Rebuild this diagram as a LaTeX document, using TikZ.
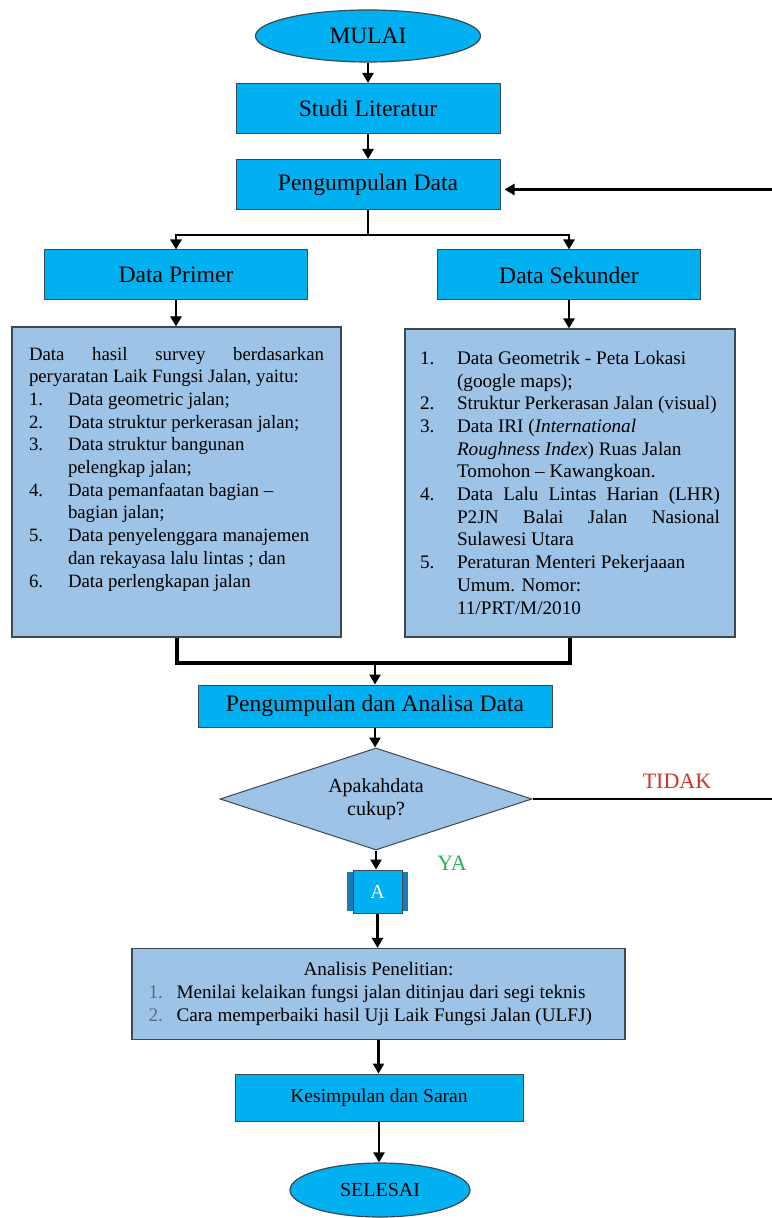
\documentclass[tikz,border=0pt]{standalone}
\usepackage{fontspec}
\setmainfont{Liberation Serif}
\usetikzlibrary{shapes.geometric,arrows.meta,positioning}
\definecolor{birumuda}{HTML}{00B0F0}
\definecolor{birupucat}{HTML}{9DC3E6}
\definecolor{birutua}{HTML}{1C78B8}
\definecolor{garis}{HTML}{3C4852}
\definecolor{merah}{HTML}{D2332B}
\definecolor{hijau}{HTML}{2DB35A}
\definecolor{nomor}{HTML}{5B6B7C}
\newcounter{butirno}
\newenvironment{butir}[2][black]{%
  \begin{list}{\textcolor{#1}{\arabic{butirno}.}}{\usecounter{butirno}%
    \setlength\leftmargin{#2}\setlength\labelwidth{#2}%
    \setlength\labelsep{0pt}\setlength\itemsep{0pt}%
    \setlength\parsep{0pt}\setlength\topsep{0pt}\setlength\partopsep{0pt}%
    \setlength\itemindent{0pt}\setlength\listparindent{0pt}%
    \def\makelabel##1{##1\hfil}}}%
  {\end{list}}
\begin{document}
\begin{tikzpicture}[x=0.5pt,y=-0.5pt,
  kotak/.style={rectangle,draw=garis,line width=0.5pt,fill=birumuda,inner sep=0pt,
    font=\fontsize{11.8}{14}\selectfont},
  oval/.style={ellipse,draw=garis,line width=0.6pt,fill=birumuda,inner sep=0pt},
  daftar/.style={rectangle,draw=garis,line width=0.6pt,fill=birupucat,inner ysep=0pt},
  keputusan/.style={diamond,aspect=3,draw=garis,line width=0.5pt,fill=birupucat,inner sep=0pt,
    align=center,font=\fontsize{10}{11.5}\selectfont},
  panah/.style={line width=1.4pt,-{Triangle[length=5pt,width=5.5pt]}},
  tebal/.style={line width=2pt},
  label/.style={font=\fontsize{11}{13}\selectfont}]
  \useasboundingbox (0,0) rectangle (771,1218);
  % alur atas
  \node[oval,minimum width=112.5pt,minimum height=26pt,font=\fontsize{11.7}{14}\selectfont] (mulai) at (368,36) {MULAI};
  \node[kotak,minimum width=132pt,minimum height=25pt] (studi) at (368,108.5) {Studi Literatur};
  \node[kotak,minimum width=132pt,minimum height=25pt] (kumpul) at (368,184.5) {Pengumpulan Data};
  \node[kotak,minimum width=131.5pt,minimum height=25pt] (primer) at (176,275) {Data Primer};
  \node[kotak,minimum width=131.5pt,minimum height=25pt] (sekunder) at (569,275) {Data Sekunder};
  % daftar data
  \node[daftar,minimum width=164.5pt,minimum height=155pt,inner xsep=8.5pt,inner ysep=10pt] (lbox) at (176.5,482)
    {\parbox[c][135pt][t]{147.5pt}{\fontsize{9.4}{11.35}\selectfont\sloppy
      Data hasil survey berdasarkan\linebreak peryaratan Laik Fungsi Jalan, yaitu:
      \begin{butir}{19.5pt}
        \item Data geometric jalan;
        \item Data struktur perkerasan jalan;
        \item Data struktur bangunan\newline pelengkap jalan;
        \item Data pemanfaatan bagian --\newline bagian jalan;
        \item Data penyelenggara manajemen\newline dan rekayasa lalu lintas ; dan
        \item Data perlengkapan jalan
      \end{butir}}};
  \node[daftar,minimum width=165pt,minimum height=154pt,inner xsep=7.5pt,inner ysep=11pt] (rbox) at (570,483)
    {\parbox[c][132pt][t]{150pt}{\fontsize{9.6}{11.35}\selectfont\sloppy
      \begin{butir}{18.5pt}
        \item Data Geometrik - Peta Lokasi\newline (google maps);
        \item Struktur Perkerasan Jalan (visual)
        \item Data IRI (\textit{International}\newline \textit{Roughness Index}) Ruas Jalan\newline Tomohon -- Kawangkoan.
        \item Data Lalu Lintas Harian (LHR)\linebreak P2JN Balai Jalan Nasional\linebreak Sulawesi Utara
        \item Peraturan Menteri Pekerjaaan\newline Umum. Nomor:\newline 11/PRT/M/2010
      \end{butir}}};
  % analisa dan keputusan
  \node[kotak,minimum width=177pt,minimum height=21pt] (analisa) at (375,706) {Pengumpulan dan Analisa Data};
  \node[keputusan,minimum width=156pt,minimum height=51pt] (cek) at (376,799) {Apakahdata\\cukup?};
  \node[rectangle,fill=birutua,minimum width=30.5pt,minimum height=19.5pt,inner sep=0pt] (Ab) at (377.5,891.5) {};
  \node[kotak,minimum width=24.5pt,minimum height=21.5pt,text=white,font=\fontsize{10}{12}\selectfont] (A) at (Ab) {A};
  \node[daftar,minimum width=246.5pt,minimum height=45.5pt,inner xsep=8.25pt] (analisis) at (378.5,994)
    {\parbox{230pt}{\fontsize{9.6}{11.6}\selectfont
      \centering Analisis Penelitian:\par\raggedright
      \begin{butir}[nomor]{14pt}
        \item Menilai kelaikan fungsi jalan ditinjau dari segi teknis
        \item Cara memperbaiki hasil Uji Laik Fungsi Jalan (ULFJ)
      \end{butir}}};
  \node[kotak,minimum width=144pt,minimum height=23.5pt,font=\fontsize{9.8}{12}\selectfont] (simpul) at (379,1097.5) {Kesimpulan dan Saran};
  \node[oval,minimum width=90pt,minimum height=27pt,font=\fontsize{10}{12}\selectfont] (selesai) at (380,1190) {SELESAI};
  \node[label,text=merah] (tidak) at (677,781) {TIDAK};
  \node[label,text=hijau] (ya) at (452,863) {YA};
  % penghubung
  \coordinate (cabang) at (368,235);
  \coordinate (gabung) at (375,663);
  \coordinate (balik) at (790,0);
  \draw[panah] (mulai.south) -- (studi.north);
  \draw[panah] (studi.south) -- (kumpul.north);
  \draw[line width=1.4pt] (kumpul.south) -- (cabang);
  \draw[panah] (cabang) -| (primer.north);
  \draw[panah] (cabang) -| (sekunder.north);
  \draw[panah] (primer.south) -- (primer.south |- lbox.north);
  \draw[panah] (sekunder.south) -- (sekunder.south |- rbox.north);
  \draw[tebal] (lbox.south) -- (lbox.south |- gabung) -- (rbox.south |- gabung) -- (rbox.south);
  \draw[panah] (gabung) -- (analisa.north);
  \draw[panah] (analisa.south) -- (analisa.south |- cek.north);
  \draw[panah] (cek.east) -- (cek.east -| balik) |- ([xshift=2pt,yshift=-2.5pt]kumpul.east);
  \draw[panah] (cek.south) -- (cek.south |- A.north);
  \draw[panah] (A.south) -- (A.south |- analisis.north);
  \draw[panah] (analisis.south) -- (analisis.south |- simpul.north);
  \draw[panah] (simpul.south) -- (simpul.south |- selesai.north);
\end{tikzpicture}
\end{document}
